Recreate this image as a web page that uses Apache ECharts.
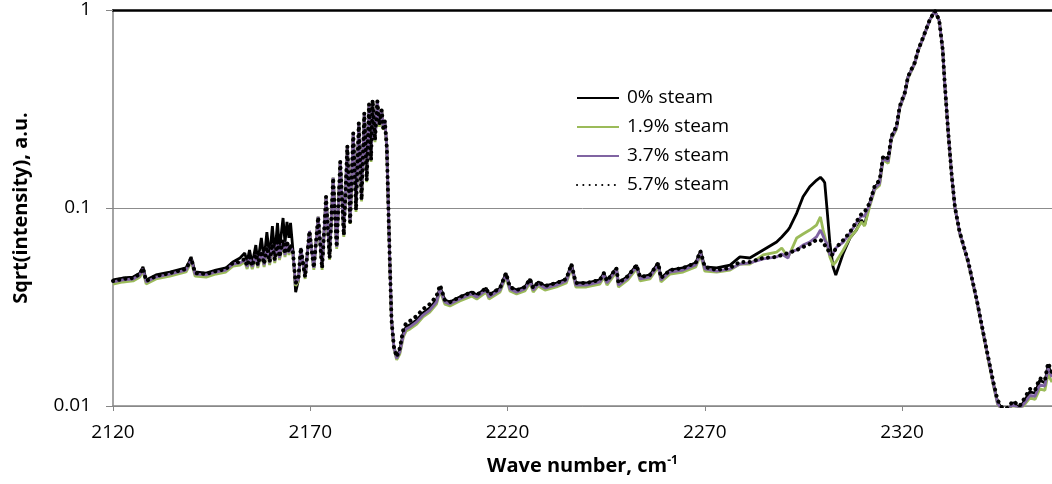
<!DOCTYPE html>
<html>
<head>
<meta charset="utf-8">
<script src="https://cdn.jsdelivr.net/npm/echarts@6/dist/echarts.min.js"></script>
<style>
html,body{margin:0;padding:0;background:#fff;}
#chart{width:1052px;height:484px;}
</style>
</head>
<body>
<div id="chart"></div>
<script>
const seriesNames = ['0% steam', '1.9% steam', '3.7% steam', '5.7% steam'];
const xTicks = [2120, 2170, 2220, 2270, 2320];
const yTicks = [0.01, 0.1, 1];

const waveNumbers = [
  2120.0, 2122.5, 2125.1, 2126.8, 2127.6, 2128.4, 2130.9, 2134.4, 2138.5, 2139.3, 2139.8, 2140.8, 2143.6, 2146.1, 2148.6, 2150.4, 2152.2,
  2153.4, 2154.0, 2154.6, 2155.3, 2156.2, 2156.7, 2157.6, 2158.3, 2159.0, 2159.7, 2160.4, 2161.0, 2161.7, 2162.2, 2163.1, 2163.6, 2164.1, 2164.6, 2165.0, 2165.6, 2166.3, 2167.0, 2167.6,
  2168.7, 2169.8, 2170.9, 2172.0, 2173.0, 2174.0, 2174.9, 2175.8, 2176.7, 2177.6, 2178.5, 2179.4, 2180.1, 2180.9, 2181.6, 2182.3, 2183.0, 2183.7, 2184.3, 2184.9, 2185.4, 2185.8, 2186.4, 2187.0, 2187.5, 2188.1, 2188.5, 2188.9, 2189.4,
  2189.8, 2190.2, 2190.6, 2191.2, 2191.9,
  2192.7, 2193.6, 2194.3, 2195.3, 2197.0, 2198.6, 2200.3, 2202.0, 2202.9, 2204.1, 2205.4, 2207.9, 2210.9, 2212.2, 2214.6, 2215.3, 2218.1, 2219.6, 2220.6, 2222.3, 2224.4, 2225.7, 2226.5, 2227.8, 2229.5, 2232.4, 2234.9, 2236.2, 2237.3, 2240.0, 2243.4, 2244.4, 2245.2, 2247.6, 2248.1, 2250.5, 2252.7, 2253.6, 2256.1, 2258.2, 2258.9, 2261.2, 2264.5, 2267.7, 2268.9, 2270.0,
  2273.0, 2276.4, 2278.9, 2281.4, 2284.8, 2288.2, 2289.5, 2291.1, 2291.6, 2293.3, 2294.9, 2296.6, 2298.3, 2299.3, 2300.0, 2300.4, 2301.0, 2301.7, 2302.5, 2303.2, 2305.1, 2306.8, 2308.4, 2309.7, 2310.5, 2311.8,
  2313.1, 2314.3, 2315.2, 2316.5, 2317.3, 2318.6, 2319.4, 2320.7, 2321.5, 2323.2, 2324.1, 2325.3, 2327.0, 2328.3, 2329.4, 2330.3, 2330.8, 2331.7, 2332.6, 2333.4, 2334.6, 2336.8, 2338.9, 2341.4, 2343.1, 2344.2, 2345.5, 2346.8, 2348.1, 2349.8, 2351.1, 2352.4, 2353.7, 2354.9, 2356.2, 2357.0, 2358.0
];

const steam0 = [
  0.0433, 0.0443, 0.0448, 0.0469, 0.0504, 0.0433, 0.0459, 0.0475, 0.0498, 0.0534, 0.0566, 0.0475, 0.0469, 0.0486, 0.0498, 0.0534, 0.0559,
  0.0592, 0.0534, 0.0614, 0.0521, 0.0650, 0.0534, 0.0706, 0.0546, 0.0756, 0.0566, 0.0811, 0.0579, 0.0840, 0.0614, 0.0890, 0.0666, 0.0850, 0.0706, 0.0840, 0.0614, 0.0376, 0.0433, 0.0628,
  0.0448, 0.0765, 0.0498, 0.0901, 0.0498, 0.114, 0.0559, 0.142, 0.0635, 0.171, 0.0730, 0.206, 0.0850, 0.239, 0.0977, 0.269, 0.110, 0.302, 0.138, 0.335, 0.175, 0.351, 0.220, 0.347, 0.263, 0.313, 0.254, 0.275, 0.203,
  0.100, 0.0504, 0.0272, 0.0199, 0.0177,
  0.0192, 0.0234, 0.0251, 0.0257, 0.0272, 0.0295, 0.0313, 0.0343, 0.0399, 0.0343, 0.0335, 0.0355, 0.0376, 0.0364, 0.0394, 0.0364, 0.0394, 0.0469, 0.0399, 0.0385, 0.0399, 0.0438, 0.0394, 0.0423, 0.0404, 0.0418, 0.0438, 0.0521, 0.0418, 0.0418, 0.0433, 0.0469, 0.0428, 0.0498, 0.0418, 0.0453, 0.0515, 0.0448, 0.0459, 0.0528, 0.0443, 0.0486, 0.0498, 0.0528, 0.0606, 0.0504,
  0.0498, 0.0515, 0.0566, 0.0559, 0.0614, 0.0673, 0.0714, 0.0774, 0.0802, 0.0943, 0.114, 0.128, 0.138, 0.143, 0.138, 0.134, 0.0977, 0.0666, 0.0504, 0.0459, 0.0592, 0.0706, 0.0774, 0.0870, 0.0820, 0.106,
  0.128, 0.135, 0.181, 0.175, 0.228, 0.257, 0.324, 0.381, 0.459, 0.540, 0.628, 0.722, 0.890, 0.988, 0.890, 0.628, 0.428, 0.239, 0.143, 0.100, 0.0748, 0.0528, 0.0343, 0.0192, 0.0131, 0.0105, 0.00955, 0.00933, 0.0104, 0.00977, 0.0107, 0.0118, 0.0116, 0.0135, 0.0131, 0.0161, 0.0142
];

const steam19 = [
  0.0413, 0.0423, 0.0428, 0.0448, 0.0480, 0.0413, 0.0438, 0.0453, 0.0475, 0.0509, 0.0540, 0.0453, 0.0448, 0.0464, 0.0475, 0.0509, 0.0515,
  0.0534, 0.0492, 0.0546, 0.0492, 0.0566, 0.0498, 0.0586, 0.0504, 0.0614, 0.0515, 0.0635, 0.0528, 0.0650, 0.0546, 0.0666, 0.0566, 0.0658, 0.0579, 0.0635, 0.0579, 0.0404, 0.0428, 0.0614,
  0.0438, 0.0765, 0.0487, 0.0901, 0.0487, 0.114, 0.0547, 0.142, 0.0621, 0.171, 0.0714, 0.206, 0.0831, 0.239, 0.0955, 0.269, 0.108, 0.302, 0.135, 0.335, 0.171, 0.351, 0.215, 0.347, 0.257, 0.313, 0.248, 0.269, 0.198,
  0.0977, 0.0492, 0.0266, 0.0194, 0.0171,
  0.0183, 0.0223, 0.0239, 0.0245, 0.0259, 0.0282, 0.0298, 0.0327, 0.0381, 0.0327, 0.0320, 0.0339, 0.0359, 0.0347, 0.0376, 0.0347, 0.0376, 0.0448, 0.0381, 0.0368, 0.0381, 0.0418, 0.0376, 0.0404, 0.0385, 0.0399, 0.0418, 0.0498, 0.0399, 0.0399, 0.0413, 0.0448, 0.0408, 0.0475, 0.0399, 0.0433, 0.0492, 0.0428, 0.0438, 0.0504, 0.0423, 0.0464, 0.0475, 0.0504, 0.0579, 0.0480,
  0.0475, 0.0486, 0.0521, 0.0521, 0.0579, 0.0599, 0.0628, 0.0566, 0.0592, 0.0706, 0.0739, 0.0774, 0.0820, 0.0901, 0.0774, 0.0722, 0.0650, 0.0566, 0.0515, 0.0534, 0.0614, 0.0706, 0.0774, 0.0850, 0.0811, 0.102,
  0.124, 0.130, 0.175, 0.168, 0.222, 0.250, 0.318, 0.375, 0.452, 0.533, 0.622, 0.715, 0.884, 0.982, 0.887, 0.630, 0.430, 0.241, 0.144, 0.100, 0.0750, 0.0526, 0.0342, 0.0190, 0.0128, 0.0102, 0.0093, 0.0094, 0.0100, 0.0095, 0.0102, 0.0110, 0.0108, 0.0122, 0.0120, 0.0145, 0.0132
];

const steam37 = [
  0.0423, 0.0433, 0.0438, 0.0459, 0.0492, 0.0423, 0.0448, 0.0464, 0.0486, 0.0521, 0.0553, 0.0464, 0.0459, 0.0475, 0.0486, 0.0521, 0.0528,
  0.0546, 0.0504, 0.0559, 0.0504, 0.0579, 0.0509, 0.0599, 0.0515, 0.0628, 0.0528, 0.0650, 0.0540, 0.0666, 0.0559, 0.0681, 0.0579, 0.0673, 0.0592, 0.0650, 0.0592, 0.0413, 0.0438, 0.0621,
  0.0448, 0.0765, 0.0498, 0.0901, 0.0498, 0.114, 0.0559, 0.142, 0.0635, 0.171, 0.0730, 0.206, 0.0850, 0.239, 0.0977, 0.269, 0.110, 0.302, 0.138, 0.335, 0.175, 0.351, 0.220, 0.347, 0.263, 0.313, 0.254, 0.275, 0.203,
  0.100, 0.0504, 0.0272, 0.0197, 0.0174,
  0.0187, 0.0228, 0.0245, 0.0251, 0.0266, 0.0288, 0.0305, 0.0335, 0.0390, 0.0335, 0.0327, 0.0347, 0.0368, 0.0355, 0.0385, 0.0355, 0.0385, 0.0459, 0.0390, 0.0376, 0.0390, 0.0428, 0.0385, 0.0413, 0.0394, 0.0408, 0.0428, 0.0509, 0.0408, 0.0408, 0.0423, 0.0459, 0.0418, 0.0486, 0.0408, 0.0443, 0.0504, 0.0438, 0.0448, 0.0515, 0.0433, 0.0475, 0.0486, 0.0515, 0.0592, 0.0492,
  0.0480, 0.0492, 0.0521, 0.0528, 0.0553, 0.0566, 0.0586, 0.0559, 0.0599, 0.0614, 0.0650, 0.0673, 0.0714, 0.0774, 0.0722, 0.0689, 0.0658, 0.0579, 0.0586, 0.0628, 0.0673, 0.0748, 0.0840, 0.0911, 0.0911, 0.104,
  0.126, 0.133, 0.178, 0.172, 0.225, 0.254, 0.320, 0.378, 0.455, 0.536, 0.625, 0.718, 0.886, 0.985, 0.888, 0.632, 0.432, 0.243, 0.145, 0.101, 0.0752, 0.0530, 0.0345, 0.0193, 0.0130, 0.0103, 0.0094, 0.0095, 0.0102, 0.0096, 0.0104, 0.0113, 0.0112, 0.0128, 0.0126, 0.0155, 0.0140
];

const steam57 = [
  0.0428, 0.0438, 0.0443, 0.0464, 0.0498, 0.0428, 0.0453, 0.0469, 0.0492, 0.0528, 0.0559, 0.0469, 0.0464, 0.0480, 0.0492, 0.0528, 0.0534,
  0.0553, 0.0509, 0.0566, 0.0509, 0.0586, 0.0515, 0.0606, 0.0521, 0.0635, 0.0534, 0.0658, 0.0546, 0.0673, 0.0566, 0.0689, 0.0586, 0.0681, 0.0599, 0.0658, 0.0599, 0.0418, 0.0443, 0.0628,
  0.0448, 0.0765, 0.0498, 0.0901, 0.0498, 0.114, 0.0559, 0.142, 0.0635, 0.171, 0.0730, 0.206, 0.0850, 0.239, 0.0977, 0.269, 0.110, 0.302, 0.138, 0.335, 0.175, 0.351, 0.220, 0.347, 0.263, 0.313, 0.254, 0.275, 0.203,
  0.100, 0.0504, 0.0272, 0.0199, 0.0177,
  0.0196, 0.0245, 0.0262, 0.0269, 0.0285, 0.0309, 0.0327, 0.0359, 0.0408, 0.0343, 0.0335, 0.0355, 0.0376, 0.0364, 0.0394, 0.0364, 0.0394, 0.0469, 0.0399, 0.0385, 0.0399, 0.0438, 0.0394, 0.0423, 0.0404, 0.0418, 0.0438, 0.0521, 0.0418, 0.0418, 0.0433, 0.0469, 0.0428, 0.0498, 0.0418, 0.0453, 0.0515, 0.0448, 0.0459, 0.0528, 0.0443, 0.0486, 0.0498, 0.0528, 0.0606, 0.0504,
  0.0486, 0.0498, 0.0534, 0.0534, 0.0559, 0.0566, 0.0579, 0.0592, 0.0599, 0.0614, 0.0635, 0.0658, 0.0689, 0.0689, 0.0673, 0.0650, 0.0628, 0.0586, 0.0579, 0.0628, 0.0689, 0.0756, 0.0850, 0.0933, 0.0955, 0.106,
  0.130, 0.138, 0.183, 0.178, 0.230, 0.259, 0.326, 0.383, 0.461, 0.542, 0.630, 0.724, 0.891, 0.990, 0.891, 0.630, 0.430, 0.241, 0.145, 0.101, 0.0755, 0.0533, 0.0346, 0.0194, 0.0133, 0.0107, 0.0097, 0.0098, 0.0106, 0.0100, 0.0110, 0.0122, 0.0120, 0.0138, 0.0135, 0.0165, 0.0148
];

const FONT = 'Open Sans';

function pairs(ys) {
  return waveNumbers.map(function (x, i) { return [x, ys[i]]; });
}

const chart = echarts.init(document.getElementById('chart'), null, { renderer: 'canvas' });

const option = {
  animation: false,
  backgroundColor: '#ffffff',
  textStyle: { fontFamily: FONT },
  grid: { left: 113, right: 0, top: 10, bottom: 78, containLabel: false },
  legend: {
    orient: 'vertical',
    left: 571,
    top: 83,
    itemWidth: 42,
    itemHeight: 14,
    itemGap: 9,
    data: seriesNames,
    itemStyle: { opacity: 0, borderWidth: 0 },
    textStyle: { fontFamily: FONT, fontSize: 19, color: '#000', lineHeight: 20, padding: [0, 0, 0, 3] }
  },
  xAxis: [
    {
      type: 'value',
      min: 2120,
      max: 2358,
      interval: 50,
      axisLine: { show: true, lineStyle: { color: '#868686', width: 1.5 } },
      axisTick: { show: true, length: 5, lineStyle: { color: '#868686', width: 1 } },
      axisLabel: {
        fontFamily: FONT, fontSize: 19, color: '#000', margin: 17, showMaxLabel: false,
        formatter: function (v) { return xTicks.indexOf(Math.round(v)) >= 0 ? String(Math.round(v)) : ''; }
      },
      splitLine: { show: false },
      name: 'Wave number, cm{sup|-1}',
      nameLocation: 'middle',
      nameGap: 49,
      nameTextStyle: {
        fontFamily: FONT, fontSize: 20, fontWeight: 'bold', color: '#000',
        rich: { sup: { fontFamily: FONT, fontSize: 12, fontWeight: 'bold', color: '#000', padding: [0, 0, 10, 0] } }
      }
    },
    {
      type: 'value',
      position: 'top',
      min: 2120,
      max: 2358,
      axisLine: { show: true, lineStyle: { color: '#000', width: 2.5 } },
      axisTick: { show: false },
      axisLabel: { show: false },
      splitLine: { show: false }
    }
  ],
  yAxis: {
    type: 'log',
    logBase: 10,
    min: 0.01,
    max: 1,
    axisLine: { show: true, lineStyle: { color: '#868686', width: 1.5 } },
    axisTick: { show: true, length: 7, lineStyle: { color: '#868686', width: 1 } },
    axisLabel: {
      fontFamily: FONT, fontSize: 19, color: '#000', margin: 22,
      formatter: function (v) {
        const r = Number(Number(v).toPrecision(3));
        return yTicks.indexOf(r) >= 0 ? String(r) : '';
      }
    },
    splitLine: { show: true, lineStyle: { color: '#8c8c8c', width: 1 } },
    minorTick: { show: false },
    name: 'Sqrt(intensity), a.u.',
    nameLocation: 'middle',
    nameGap: 82,
    nameRotate: 90,
    nameTextStyle: { fontFamily: FONT, fontSize: 20, fontWeight: 'bold', color: '#000' }
  },
  series: [
    {
      name: seriesNames[0], type: 'line', data: pairs(steam0), symbol: 'none', clip: true,
      color: '#000000', lineStyle: { color: '#000000', width: 2.8 }, emphasis: { disabled: true }
    },
    {
      name: seriesNames[1], type: 'line', data: pairs(steam19), symbol: 'none', clip: true,
      color: '#9bbb59', lineStyle: { color: '#9bbb59', width: 2.8 }, emphasis: { disabled: true }
    },
    {
      name: seriesNames[2], type: 'line', data: pairs(steam37), symbol: 'none', clip: true,
      color: '#8064a2', lineStyle: { color: '#8064a2', width: 2.8 }, emphasis: { disabled: true }
    },
    {
      name: seriesNames[3], type: 'line', data: pairs(steam57), symbol: 'none', clip: true,
      color: '#000000', lineStyle: { color: '#000000', width: 4, type: [0.1, 6.2], cap: 'round' }, emphasis: { disabled: true }
    }
  ]
};

chart.setOption(option);
</script>
</body>
</html>
